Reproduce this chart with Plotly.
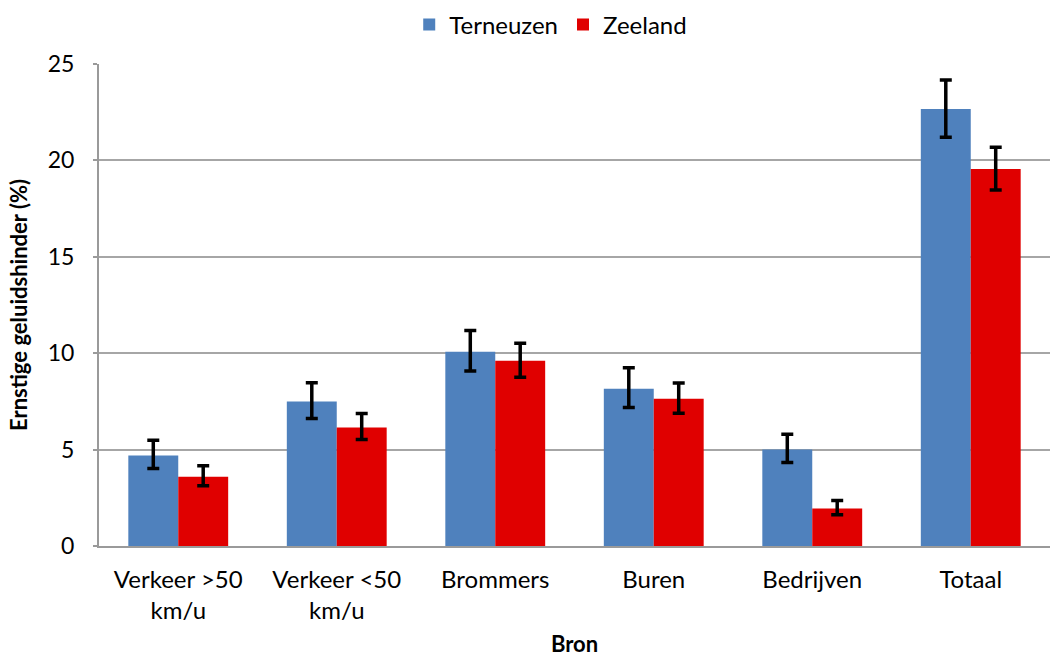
import plotly.graph_objects as go

categories = ["Verkeer >50<br>km/u", "Verkeer <50<br>km/u", "Brommers", "Buren", "Bedrijven", "Totaal"]
terneuzen = [4.69, 7.49, 10.08, 8.16, 5.00, 22.67]
terneuzen_hi = [5.48, 8.47, 11.18, 9.25, 5.79, 24.17]
terneuzen_lo = [4.02, 6.61, 9.08, 7.19, 4.33, 21.20]
zeeland = [3.59, 6.14, 9.61, 7.64, 1.94, 19.56]
zeeland_hi = [4.16, 6.87, 10.51, 8.46, 2.36, 20.68]
zeeland_lo = [3.13, 5.52, 8.75, 6.88, 1.62, 18.46]

FONT = "Lato"

def err(v, hi, lo):
    return dict(type="data", symmetric=False,
                array=[h - x for x, h in zip(v, hi)],
                arrayminus=[x - l for x, l in zip(v, lo)],
                color="black", thickness=3.5, width=6)

fig = go.Figure()
fig.add_trace(go.Bar(name="Terneuzen", x=categories, y=terneuzen,
                     marker=dict(color="#4f81bd", line=dict(width=0)),
                     error_y=err(terneuzen, terneuzen_hi, terneuzen_lo)))
fig.add_trace(go.Bar(name="Zeeland", x=categories, y=zeeland,
                     marker=dict(color="#e00000", line=dict(width=0)),
                     error_y=err(zeeland, zeeland_hi, zeeland_lo)))

fig.update_layout(
    width=1051, height=657,
    barmode="group", bargap=0.37, bargroupgap=0,
    plot_bgcolor="white", paper_bgcolor="white",
    margin=dict(l=99, r=1, t=64, b=111, autoexpand=False),
    font=dict(family=FONT, size=23, color="black"),
    legend=dict(orientation="h", x=0.475, xanchor="center", y=0.962, yanchor="middle",
                yref="container", font=dict(family=FONT, size=24),
                traceorder="normal", itemwidth=30),
    xaxis=dict(showline=True, linecolor="#9a9a9a", linewidth=2, automargin=False,
               ticks="", tickfont=dict(family=FONT, size=24), ticklabelstandoff=11,
               title=dict(text="<b>Bron</b>", font=dict(family=FONT, size=22), standoff=16)),
    yaxis=dict(range=[0, 25], dtick=5, showgrid=True, gridcolor="#a6a6a6", gridwidth=2,
               showline=True, linecolor="#9a9a9a", linewidth=2, automargin=False,
               ticks="outside", ticklen=4, tickcolor="#9a9a9a", tickwidth=2,
               tickfont=dict(family=FONT, size=23), ticklabelstandoff=14,
               zeroline=False,
               title=dict(text="<b>Ernstige geluidshinder (%)</b>", font=dict(family=FONT, size=22), standoff=14)),
)
fig.write_html("out.html", config={"displayModeBar": False},
               post_script="document.body.style.margin='0';")
